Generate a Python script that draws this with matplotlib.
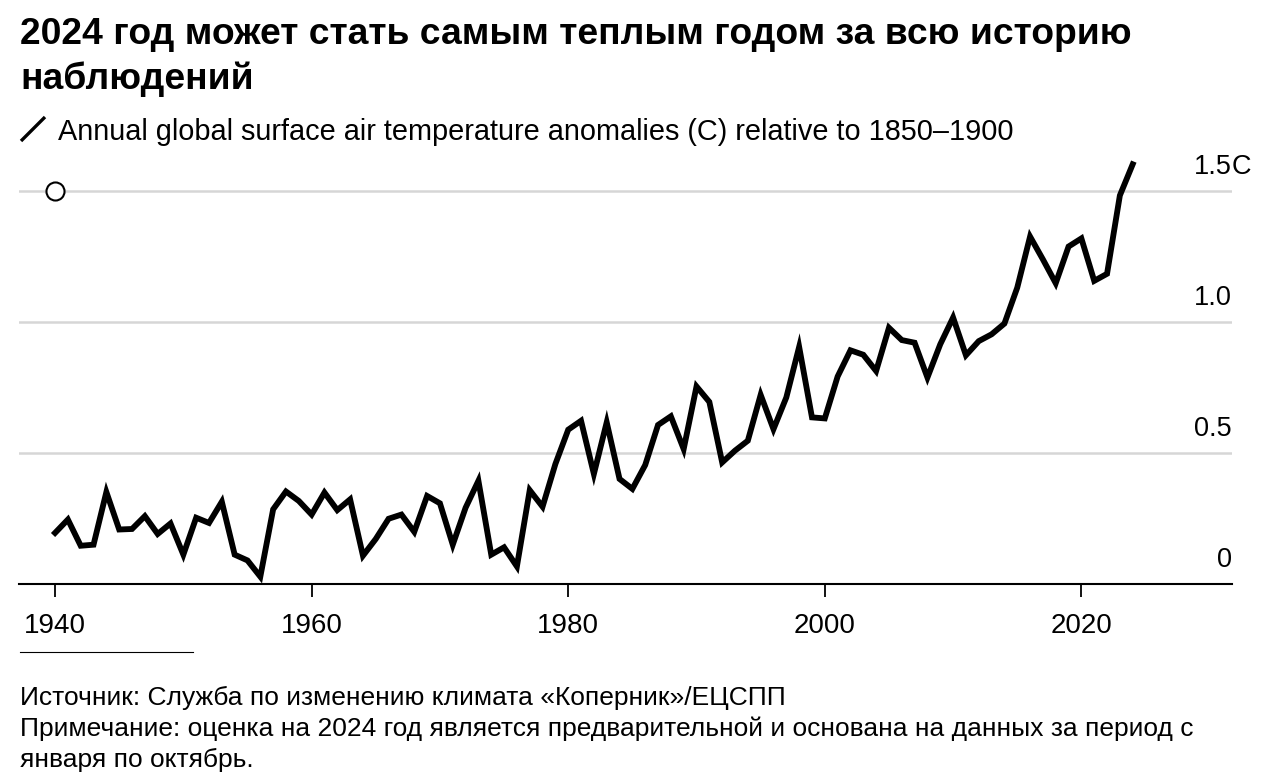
import matplotlib.pyplot as plt
import matplotlib.transforms as mtransforms
from matplotlib.lines import Line2D

# ---- data ----
years = list(range(1940, 2025))
anomaly = [
    0.195, 0.246, 0.146, 0.150, 0.351, 0.208, 0.210, 0.259, 0.191, 0.231,  # 1940s
    0.112, 0.253, 0.233, 0.314, 0.112, 0.090, 0.028, 0.285, 0.353, 0.317,  # 1950s
    0.265, 0.349, 0.282, 0.323, 0.108, 0.172, 0.249, 0.265, 0.199, 0.336,  # 1960s
    0.308, 0.150, 0.291, 0.394, 0.112, 0.140, 0.067, 0.358, 0.295, 0.458,  # 1970s
    0.589, 0.623, 0.420, 0.617, 0.401, 0.363, 0.454, 0.607, 0.640, 0.515,  # 1980s
    0.754, 0.695, 0.464, 0.509, 0.547, 0.722, 0.591, 0.712, 0.905, 0.636,  # 1990s
    0.632, 0.792, 0.892, 0.875, 0.813, 0.978, 0.931, 0.921, 0.788, 0.915,  # 2000s
    1.017, 0.873, 0.927, 0.953, 0.994, 1.131, 1.326, 1.239, 1.148, 1.288,  # 2010s
    1.319, 1.157, 1.184, 1.483, 1.602,                                     # 2020s
]
x_ticks = [1940, 1960, 1980, 2000, 2020]
y_ticks = [0, 0.5, 1.0, 1.5]
y_tick_labels = ['0', '0.5', '1.0', '1.5']

title_1 = '2024 год может стать самым теплым годом за всю историю'
title_2 = 'наблюдений'
subtitle = 'Annual global surface air temperature anomalies (C) relative to 1850–1900'
footer_lines = [
    'Источник: Служба по изменению климата «Коперник»/ЕЦСПП',
    'Примечание: оценка на 2024 год является предварительной и основана на данных за период с',
    'января по октябрь.',
]

plt.rcParams['font.family'] = ['Liberation Sans', 'DejaVu Sans']

W, H = 1266, 780
fig = plt.figure(figsize=(W / 100, H / 100), dpi=100)
fig.patch.set_facecolor('white')

# axes box in pixels: x 19..1232, y-bottom 584
ax = fig.add_axes([19 / W, 1 - 584 / H, (1232 - 19) / W, 1.65 * 262 / H])
ax.set_xlim(1937.19, 2031.74)
ax.set_ylim(0, 1.65)

# grid
for v in y_ticks[1:]:
    ax.axhline(v, color='#d6d6d6', lw=1.8, zorder=1)

ax.plot(years, anomaly, color='black', lw=4.2, solid_joinstyle='miter', zorder=3)
ax.plot([1940], [1.5], marker='o', ms=13, mfc='white', mec='black', mew=1.5,
        zorder=4, clip_on=False)

for s in ['top', 'right', 'left']:
    ax.spines[s].set_visible(False)
ax.spines['bottom'].set_linewidth(1.5)
ax.spines['bottom'].set_color('black')

ax.set_xticks(x_ticks)
ax.set_xticklabels([str(y) for y in x_ticks])
ax.tick_params(axis='x', length=9, width=1.3, color='black', pad=12,
               labelsize=20, labelcolor='black')
ax.set_yticks([])

# y labels sit above the gridlines, right-aligned at the axes edge
trans = mtransforms.offset_copy(
    mtransforms.blended_transform_factory(ax.transAxes, ax.transData),
    fig=fig, x=0, y=12, units='points')
for v, lab in zip(y_ticks, y_tick_labels):
    ax.text(1.0, v, lab, transform=trans, ha='right', va='baseline',
            fontsize=19.5, color='black')
ax.text(1.0, 1.5, 'C', transform=trans, ha='left', va='baseline',
        fontsize=19.5, color='black')

# titles
fig.text(20 / W, 1 - 44 / H, title_1, fontsize=26.8, fontweight='bold', va='baseline')
fig.text(20 / W, 1 - 89 / H, title_2, fontsize=26.8, fontweight='bold', va='baseline')

# legend key + subtitle
fig.add_artist(Line2D([21 / W, 45 / W], [1 - 141 / H, 1 - 117 / H], color='black',
                      lw=2.4, solid_capstyle='butt'))
fig.text(58 / W, 1 - 140 / H, subtitle, fontsize=20.8, va='baseline')

# short rule and footer
fig.add_artist(Line2D([20 / W, 193 / W], [1 - 652 / H, 1 - 652 / H], color='black', lw=0.8))
for i, line in enumerate(footer_lines):
    fig.text(20 / W, 1 - (705 + 31 * i) / H, line, fontsize=19, va='baseline')

fig.savefig('out.png', dpi=100)
